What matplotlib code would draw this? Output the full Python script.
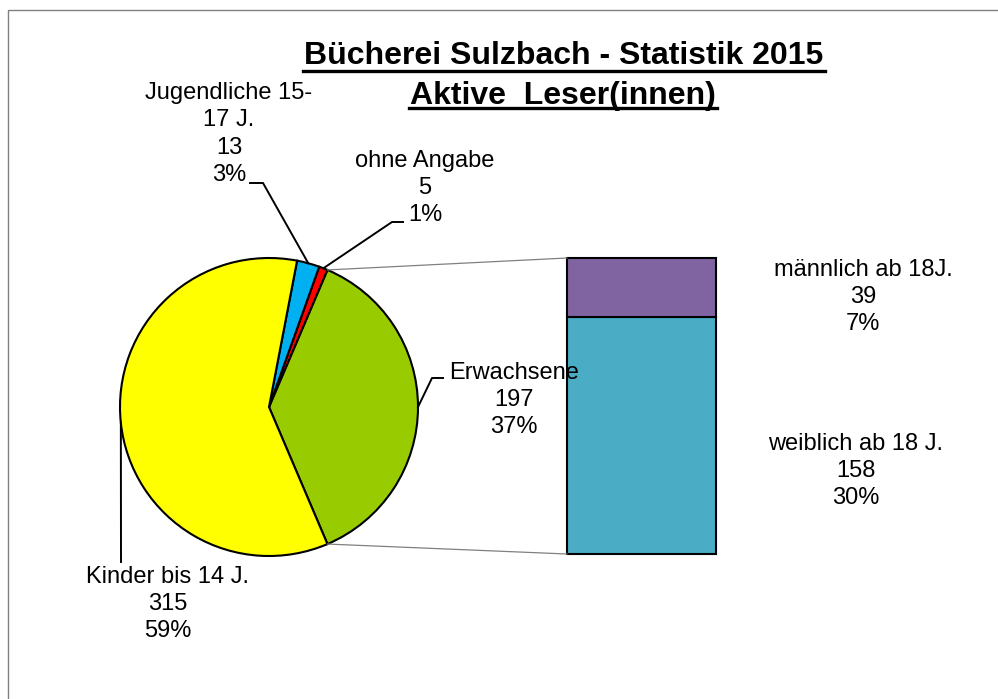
import numpy as np
import matplotlib.pyplot as plt
from matplotlib.transforms import Affine2D
from matplotlib.lines import Line2D
from matplotlib.patches import Rectangle, ConnectionPatch

plt.rcParams['font.family'] = ['Liberation Sans', 'DejaVu Sans']

# === Data ===
pie_names = ['Erwachsene', 'ohne Angabe', 'Jugendliche 15-\n17 J.', 'Kinder bis 14 J.']
pie_values = [197, 5, 13, 315]
pie_pct = ['37%', '1%', '3%', '59%']
pie_colors = ['#99CC00', '#FF0000', '#00B0F0', '#FFFF00']

bar_names = ['weiblich ab 18 J.', 'männlich ab 18J.']
bar_values = [158, 39]
bar_pct = ['30%', '7%']
bar_colors = ['#4BACC6', '#8064A2']

title_lines = ['Bücherei Sulzbach - Statistik 2015', 'Aktive  Leser(innen)']

# === Layout (pixels, origin top-left) ===
W, H = 998, 699
fig = plt.figure(figsize=(W / 100, H / 100), dpi=100)
pix = Affine2D().scale(1 / W, -1 / H).translate(0, 1) + fig.transFigure


def box(l, t, r, b):
    return [l / W, 1 - b / H, (r - l) / W, (b - t) / H]


# outer frame (only top and left edges visible)
fig.add_artist(Rectangle((8, 10), 1100, 800, transform=pix, fill=False,
                         edgecolor='#808080', linewidth=1.0))

ax_pie = fig.add_axes(box(120, 258, 418, 556))
ax_bar = fig.add_axes(box(567, 258, 716, 554))

# === Pie ===
total = sum(pie_values)
start = -pie_values[0] / total * 180
wedges, _ = ax_pie.pie(pie_values, colors=pie_colors, startangle=start,
                       counterclock=True,
                       wedgeprops=dict(edgecolor='black', linewidth=1.5))
for w in wedges:
    w.set_clip_on(False)
ax_pie.set_xlim(-1, 1)
ax_pie.set_ylim(-1, 1)
ax_pie.axis('off')

# === Stacked bar (split of Erwachsene) ===
bottom = 0
for v, c in zip(bar_values, bar_colors):
    ax_bar.bar(0, v, bottom=bottom, width=1, color=c, edgecolor='black',
               linewidth=1.5, clip_on=False)
    bottom += v
ax_bar.set_xlim(-0.5, 0.5)
ax_bar.set_ylim(0, sum(bar_values))
ax_bar.axis('off')

# connector lines pie -> bar
for th, yb in [(wedges[0].theta2, sum(bar_values)), (wedges[0].theta1, 0)]:
    r = np.deg2rad(th)
    con = ConnectionPatch(xyA=(np.cos(r), np.sin(r)), coordsA=ax_pie.transData,
                          xyB=(-0.5, yb), coordsB=ax_bar.transData,
                          color='#808080', linewidth=0.9)
    fig.add_artist(con)

# === Labels ===
fs = 17
ls = 1.32
pie_label_pos = [(514, 400), (425, 188), (229, 134), (168, 604)]
leader_pts = [[(443, 378), (432, 378)],
              [(403, 222), (392, 222)],
              [(250, 183), (263, 183)],
              [(121, 562)]]

for w, name, v, pct, pos, pts in zip(wedges, pie_names, pie_values, pie_pct,
                                     pie_label_pos, leader_pts):
    fig.text(pos[0], pos[1], f'{name}\n{v}\n{pct}', transform=pix,
             ha='center', va='center', multialignment='center',
             fontsize=fs, linespacing=ls, color='black')
    mid = np.deg2rad((w.theta1 + w.theta2) / 2)
    edge = ax_pie.transData.transform((np.cos(mid), np.sin(mid)))
    edge = pix.inverted().transform(edge)
    xs = [p[0] for p in pts] + [edge[0]]
    ys = [p[1] for p in pts] + [edge[1]]
    fig.add_artist(Line2D(xs, ys, transform=pix, color='black', linewidth=1.4))

bar_label_pos = [(856, 471), (863, 297)]
for name, v, pct, pos in zip(bar_names, bar_values, bar_pct, bar_label_pos):
    fig.text(pos[0], pos[1], f'{name}\n{v}\n{pct}', transform=pix,
             ha='center', va='center', multialignment='center',
             fontsize=fs, linespacing=ls, color='black')

# === Title with underline ===
title_pos = [(564, 64, 71), (563, 104, 107.5)]
title_texts = []
for line, (x, yb, yu) in zip(title_lines, title_pos):
    t = fig.text(x, yb, line, transform=pix, ha='center', va='baseline',
                 fontsize=23, fontweight='bold', color='black')
    title_texts.append((t, yu))

fig.canvas.draw()
renderer = fig.canvas.get_renderer()
for t, yu in title_texts:
    bb = t.get_window_extent(renderer)
    fig.add_artist(Line2D([bb.x0 - 1, bb.x1 + 1], [yu, yu], transform=pix,
                          color='black', linewidth=2.4))

fig.savefig('out.png', dpi=100)
